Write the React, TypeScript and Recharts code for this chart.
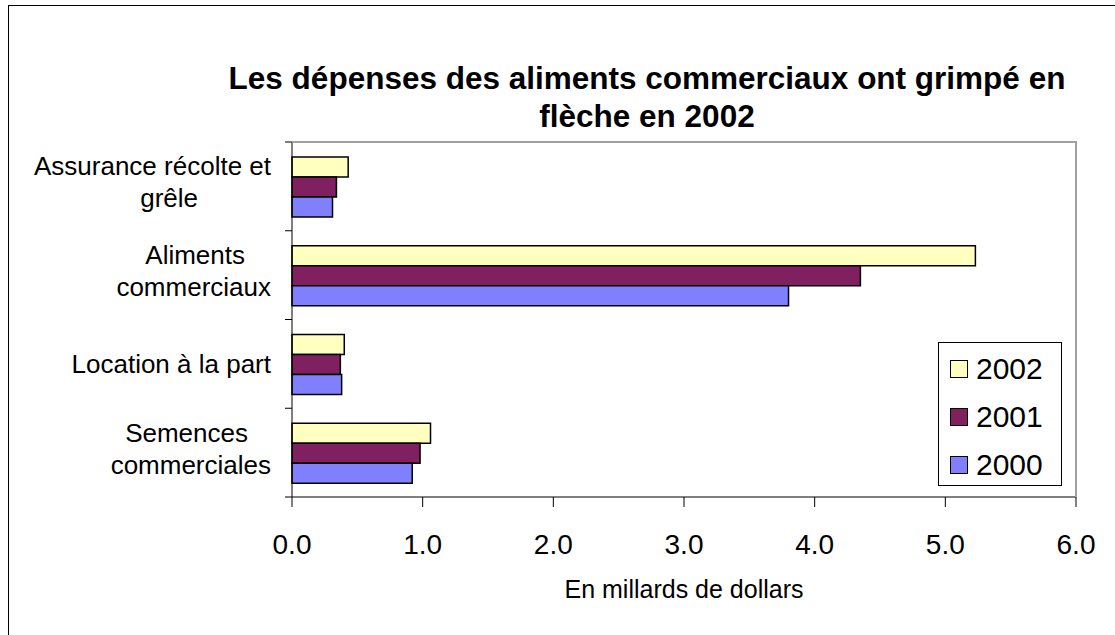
import React from 'react';
import { BarChart, Bar, XAxis, YAxis } from 'recharts';

const FONT = '"Liberation Sans", Arial, sans-serif';

// Catégories (de haut en bas) et valeurs en milliards de dollars
const categories = [
    'Assurance récolte et grêle',
    'Aliments commerciaux',
    'Location à la part',
    'Semences commerciales',
];
const categoryLines = [
    ['Assurance récolte et', 'grêle'],
    ['Aliments', 'commerciaux'],
    ['Location à la part'],
    ['Semences', 'commerciales'],
];
const values2002 = [0.43, 5.23, 0.4, 1.06];
const values2001 = [0.34, 4.35, 0.37, 0.98];
const values2000 = [0.31, 3.8, 0.38, 0.92];
const xTicks = [0, 1, 2, 3, 4, 5, 6];

const series = [
    { key: 'y2002', label: '2002', color: '#FFFFC0' },
    { key: 'y2001', label: '2001', color: '#802060' },
    { key: 'y2000', label: '2000', color: '#8080FF' },
];

const data = categories.map((name, i) => ({
    name,
    y2002: values2002[i],
    y2001: values2001[i],
    y2000: values2000[i],
}));

// décalage à droite de certaines lignes des libellés (centrage façon Excel)
const lineInset: Record<string, number> = { 'grêle': 73, Aliments: 26, Semences: 23 };

// libellé sur plusieurs lignes + graduations aux limites des catégories
const CategoryTick = (props: any) => {
    const { x, y, payload, index } = props;
    const idx = categories.indexOf(payload.value);
    const lines = categoryLines[idx] || [payload.value];
    const offsets = lines.length === 1 ? [9] : [-11, 21];
    const half = payload.offset || 44.4;
    const axisX = x + 21;
    const marks = [y - half];
    if (index === categories.length - 1 || idx === categories.length - 1) marks.push(y + half);
    return (
        <g>
            {marks.map((my, i) => (
                <line key={i} x1={axisX - 7} x2={axisX} y1={my} y2={my} stroke="#000" strokeWidth={1} />
            ))}
            {lines.map((line, i) => (
                <text
                    key={line}
                    x={x - (lineInset[line] || 0)}
                    y={y + offsets[i]}
                    textAnchor="end"
                    fontSize={26}
                    fontFamily={FONT}
                    fill="#000"
                >
                    {line}
                </text>
            ))}
        </g>
    );
};

const Legend = () => (
    <div
        style={{
            position: 'absolute',
            left: 938,
            top: 342,
            width: 124,
            height: 144,
            boxSizing: 'border-box',
            border: '1px solid #000',
            background: '#fff',
            paddingTop: 2,
        }}
    >
        {series.map((s) => (
            <div key={s.key} style={{ height: 48, display: 'flex', alignItems: 'center' }}>
                <span
                    style={{
                        width: 16,
                        height: 16,
                        marginLeft: 11,
                        marginRight: 8,
                        background: s.color,
                        border: '1px solid #000',
                    }}
                />
                <span style={{ fontFamily: FONT, fontSize: 30, color: '#000', lineHeight: '30px' }}>
                    {s.label}
                </span>
            </div>
        ))}
    </div>
);

export default function App() {
    return (
        <div
            style={{
                position: 'absolute',
                left: 0,
                top: 0,
                width: 1115,
                height: 635,
                overflow: 'hidden',
                background: '#fff',
            }}
        >
            <div
                style={{
                    position: 'absolute',
                    left: 8,
                    top: 5,
                    width: 1200,
                    height: 700,
                    border: '1px solid #000',
                }}
            />
            <div
                style={{
                    position: 'absolute',
                    left: 147,
                    top: 59,
                    width: 1000,
                    textAlign: 'center',
                    fontFamily: FONT,
                    fontWeight: 'bold',
                    fontSize: 31.5,
                    lineHeight: '38px',
                    whiteSpace: 'nowrap',
                    color: '#000',
                }}
            >
                Les dépenses des aliments commerciaux ont grimpé en
                <br />
                flèche en 2002
            </div>
            <div style={{ position: 'absolute', left: 0, top: 0 }}>
                <BarChart
                    layout="vertical"
                    width={1115}
                    height={635}
                    data={data}
                    margin={{ top: 142, right: 39, bottom: 78, left: 0 }}
                    barCategoryGap="17%"
                    barGap={0}
                >
                    <XAxis
                        type="number"
                        domain={[0, 6]}
                        ticks={xTicks}
                        interval={0}
                        tickFormatter={(v: number) => v.toFixed(1)}
                        axisLine={{ stroke: '#000' }}
                        tickLine={{ stroke: '#000' }}
                        tickSize={10}
                        tickMargin={27}
                        height={60}
                        tick={{ fill: '#000', fontSize: 28, fontFamily: FONT }}
                    />
                    <YAxis
                        type="category"
                        dataKey="name"
                        width={292}
                        interval={0}
                        axisLine={{ stroke: '#000' }}
                        tickLine={false}
                        tickSize={0}
                        tickMargin={21}
                        tick={<CategoryTick />}
                    />
                    {series.map((s) => (
                        <Bar
                            key={s.key}
                            dataKey={s.key}
                            fill={s.color}
                            stroke="#000"
                            strokeWidth={1.5}
                            isAnimationActive={false}
                        />
                    ))}
                </BarChart>
            </div>
            <div
                style={{
                    position: 'absolute',
                    left: 292,
                    top: 141,
                    width: 785,
                    height: 356,
                    boxSizing: 'border-box',
                    borderTop: '2px solid #a0a0a0',
                    borderRight: '2px solid #a0a0a0',
                    pointerEvents: 'none',
                }}
            />
            <div
                style={{
                    position: 'absolute',
                    left: 484,
                    top: 577,
                    width: 400,
                    textAlign: 'center',
                    fontFamily: FONT,
                    fontSize: 25,
                    lineHeight: '25px',
                    color: '#000',
                }}
            >
                En millards de dollars
            </div>
            <Legend />
        </div>
    );
}
